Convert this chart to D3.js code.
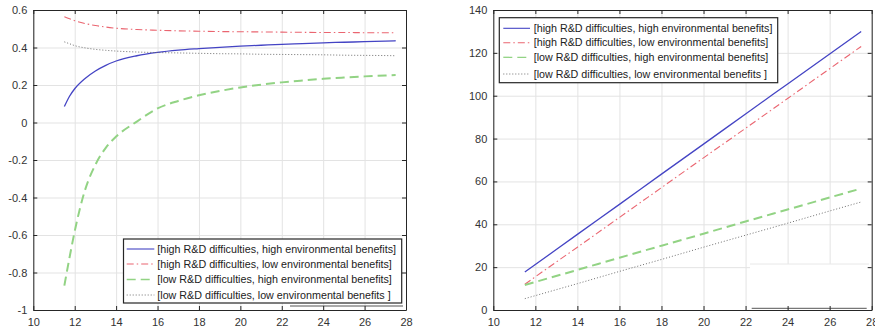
<!DOCTYPE html>
<html>
<head>
<meta charset="utf-8">
<script src="https://cdn.jsdelivr.net/npm/d3@7"></script>
<style>
  html, body { margin: 0; padding: 0; background: #fff; }
  svg { display: block; }
  text { font-family: "Liberation Sans", Arial, Helvetica, sans-serif; }
</style>
</head>
<body>
<svg id="chart" width="875" height="332"></svg>
<script>
// ---------------- DATA ----------------
const seriesNames = [
  "[high R&D difficulties, high environmental benefits]",
  "[high R&D difficulties, low environmental benefits]",
  "[low R&D difficulties, high environmental benefits]",
  "[low R&D difficulties, low environmental benefits ]"
];

const xTicks = [10, 12, 14, 16, 18, 20, 22, 24, 26, 28];
const yTicksLeft = [-1, -0.8, -0.6, -0.4, -0.2, 0, 0.2, 0.4, 0.6];
const yTickLabelsLeft = ["-1", "-0.8", "-0.6", "-0.4", "-0.2", "0", "0.2", "0.4", "0.6"];
const yTicksRight = [0, 20, 40, 60, 80, 100, 120, 140];

// left panel
const xLeft = [11.5, 11.75, 12, 12.5, 13, 13.5, 14, 15, 16, 17, 18, 19, 20, 21, 22, 23, 24, 25, 26, 27, 27.5];
const leftHighHigh = [0.085, 0.14, 0.18, 0.235, 0.275, 0.305, 0.328, 0.356, 0.374, 0.386, 0.394, 0.401, 0.407, 0.412, 0.417, 0.421, 0.425, 0.428, 0.431, 0.434, 0.436];
const leftHighLow  = [0.564, 0.553, 0.543, 0.528, 0.517, 0.509, 0.503, 0.496, 0.492, 0.489, 0.487, 0.485, 0.484, 0.483, 0.482, 0.481, 0.480, 0.480, 0.479, 0.479, 0.478];
const leftLowHigh  = [-0.87, -0.72, -0.58, -0.36, -0.225, -0.135, -0.075, 0.005, 0.075, 0.115, 0.145, 0.168, 0.187, 0.202, 0.214, 0.224, 0.233, 0.240, 0.246, 0.251, 0.253];
const leftLowLow   = [0.430, 0.420, 0.410, 0.398, 0.390, 0.385, 0.381, 0.376, 0.373, 0.371, 0.369, 0.367, 0.366, 0.364, 0.363, 0.362, 0.361, 0.359, 0.358, 0.357, 0.356];

// right panel
const xRight = [11.5, 12, 14, 16, 18, 20, 22, 24, 26, 27.5];
const rightHighHigh = [17.7, 21.2, 35.3, 49.3, 63.4, 77.4, 91.5, 105.5, 119.5, 130.0];
const rightHighLow  = [12.0, 15.5, 29.3, 43.2, 57.1, 71.0, 84.8, 98.7, 112.6, 123.0];
const rightLowHigh  = [11.7, 13.1, 18.7, 24.4, 30.0, 35.6, 41.3, 46.9, 52.5, 56.7];
const rightLowLow   = [5.3, 6.7, 12.3, 18.0, 23.6, 29.3, 34.9, 40.5, 46.2, 50.4];

// ---------------- STYLES ----------------
const styles = [
  { color: "#4444c4", width: 1.3, dash: null,            lw: 1.1 },
  { color: "#ea6570", width: 1.1, dash: "7,3,1.5,3",     lw: 1.1 },
  { color: "#92d384", width: 2.0, dash: "9,5",           lw: 1.3 },
  { color: "#707070", width: 1.0, dash: "1,2",           lw: 1.0 }
];
const axisColor = "#262626";
const gridColor = "#e3e3e3";

const svg = d3.select("#chart");

function drawPanel(cfg) {
  const x = d3.scaleLinear().domain([10, 28]).range([cfg.x0, cfg.x1]);
  const y = d3.scaleLinear().domain(cfg.yDomain).range([cfg.y1, cfg.y0]);
  const g = svg.append("g");
  const h = cfg.y1 - cfg.y0, w = cfg.x1 - cfg.x0;

  // grid
  const gx = g.append("g").attr("transform", `translate(0,${cfg.y1})`)
    .call(d3.axisBottom(x).tickValues(xTicks).tickSize(-h).tickFormat(""));
  gx.select(".domain").remove();
  gx.selectAll("line").attr("stroke", gridColor);
  const gy = g.append("g").attr("transform", `translate(${cfg.x0},0)`)
    .call(d3.axisLeft(y).tickValues(cfg.yTicks).tickSize(-w).tickFormat(""));
  gy.select(".domain").remove();
  gy.selectAll("line").attr("stroke", gridColor);

  if (cfg.extra) cfg.extra(g, x, y);

  // lines
  const line = d3.line().curve(d3.curveMonotoneX);
  cfg.series.forEach((vals, i) => {
    const st = styles[i];
    g.append("path")
      .attr("d", line(cfg.xs.map((xv, j) => [x(xv), y(vals[j])])))
      .attr("fill", "none")
      .attr("stroke", st.color)
      .attr("stroke-width", st.width)
      .attr("stroke-dasharray", st.dash);
  });

  // axes with inward ticks
  const fmt = cfg.yLabels ? (d, i) => cfg.yLabels[cfg.yTicks.indexOf(d)] : d3.format("d");
  const axB = g.append("g").attr("transform", `translate(0,${cfg.y1})`)
    .call(d3.axisBottom(x).tickValues(xTicks).tickSizeInner(-4).tickSizeOuter(0).tickPadding(8));
  const axT = g.append("g").attr("transform", `translate(0,${cfg.y0})`)
    .call(d3.axisTop(x).tickValues(xTicks).tickSizeInner(-4).tickSizeOuter(0).tickFormat(""));
  const axL = g.append("g").attr("transform", `translate(${cfg.x0},0)`)
    .call(d3.axisLeft(y).tickValues(cfg.yTicks).tickSizeInner(-4).tickSizeOuter(0).tickPadding(6).tickFormat(fmt));
  const axR = g.append("g").attr("transform", `translate(${cfg.x1},0)`)
    .call(d3.axisRight(y).tickValues(cfg.yTicks).tickSizeInner(-4).tickSizeOuter(0).tickFormat(""));
  [axB, axT, axL, axR].forEach(a => {
    a.selectAll(".domain").attr("stroke", axisColor).attr("stroke-width", 1);
    a.selectAll("line").attr("stroke", axisColor);
    a.selectAll("text").attr("fill", "#333").style("font-size", "11px")
      .style("font-family", "'Liberation Sans', Arial, sans-serif");
  });

  // legend
  const L = cfg.legend;
  const lg = g.append("g").attr("transform", `translate(${L.x},${L.y})`);
  lg.append("rect").attr("width", L.w).attr("height", L.h)
    .attr("fill", "#fff").attr("stroke", axisColor).attr("stroke-width", 1.2);
  seriesNames.forEach((name, i) => {
    const st = styles[i];
    const cy = L.rows[i];
    lg.append("line").attr("x1", L.lx0).attr("x2", L.lx1).attr("y1", cy).attr("y2", cy)
      .attr("stroke", st.color).attr("stroke-width", st.lw).attr("stroke-dasharray", st.dash);
    const t = lg.append("text").attr("x", L.tx).attr("y", cy).attr("dy", "0.35em")
      .attr("fill", "#222").style("font-size", "11px").text(name);
    const tw = t.node().getComputedTextLength();
    const target = i === 0 ? L.tw0 : null;
    if (i === 0) L._fs = 11 * L.tw0 / tw;
    t.style("font-size", L._fs + "px");
  });
}

// left panel
drawPanel({
  x0: 33.3, x1: 406, y0: 10, y1: 310,
  yDomain: [-1, 0.6], yTicks: yTicksLeft, yLabels: yTickLabelsLeft,
  xs: xLeft,
  series: [leftHighHigh, leftHighLow, leftLowHigh, leftLowLow],
  legend: { x: 123.5, y: 239, w: 278.2, h: 64, rows: [10, 25, 40.5, 56], lx0: 3.2, lx1: 30.8, tx: 33.8, tw0: 239 },
  extra: (g) => {
    g.append("line").attr("x1", 290).attr("x2", 403).attr("y1", 306).attr("y2", 306)
      .attr("stroke", "#555").attr("stroke-width", 1);
  }
});

// right panel
drawPanel({
  x0: 493.3, x1: 871.7, y0: 10, y1: 310,
  yDomain: [0, 140], yTicks: yTicksRight, yLabels: null,
  xs: xRight,
  series: [rightHighHigh, rightHighLow, rightLowHigh, rightLowLow],
  legend: { x: 499.3, y: 17.7, w: 278.4, h: 65, rows: [10.6, 25, 39.6, 56.3], lx0: 4, lx1: 30.7, tx: 34.4, tw0: 239 },
  extra: (g) => {
    g.append("rect").attr("x", 750).attr("y", 264).attr("width", 119).attr("height", 45).attr("fill", "#fff");
    g.append("line").attr("x1", 750).attr("x2", 869).attr("y1", 264).attr("y2", 264)
      .attr("stroke", "#e8e8e8").attr("stroke-width", 1);
    g.append("line").attr("x1", 751.7).attr("x2", 866.7).attr("y1", 308.3).attr("y2", 308.3)
      .attr("stroke", "#555").attr("stroke-width", 1);
  }
});
</script>
</body>
</html>
